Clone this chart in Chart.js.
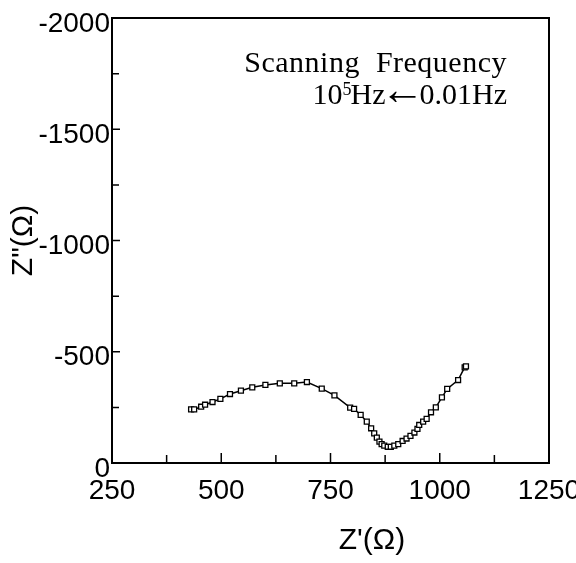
<!DOCTYPE html>
<html>
<head>
<meta charset="utf-8">
<script src="https://cdn.jsdelivr.net/npm/chart.js@4"></script>
<style>
  html, body { margin: 0; padding: 0; background: #fff; }
  canvas { display: block; }
</style>
</head>
<body>
<canvas id="nyquist" width="576" height="563"></canvas>
<script>
const zReal = [
    431, 438, 454, 463, 480, 498, 520, 545, 571, 601, 634, 667, 696,
    730, 759, 795, 804, 819, 833, 843, 850, 856, 862, 867, 873, 881,
    888, 896, 905, 915, 924, 933, 942, 949, 953, 962, 970, 980, 991,
    1005, 1017, 1042, 1057, 1060
];
const zImag = [
    -241, -241, -253, -262, -274, -288, -310, -325, -340, -351, -358, -358, -364,
    -334, -304, -249, -243, -216, -186, -156, -133, -114, -96, -85, -78, -73,
    -73, -78, -85, -99, -110, -122, -137, -153, -171, -186, -198, -228, -250,
    -295, -333, -373, -430, -434
];

const xTickVals = [250, 500, 750, 1000, 1250];
const yTickVals = [0, -500, -1000, -1500, -2000];

const sansFont = '"Liberation Sans", Arial, sans-serif';
const serifFont = '"Liberation Serif", "Times New Roman", serif';

// minor ticks sit halfway between the labelled ones
const midpoints = (vals) => vals.slice(1).map((v, i) => (v + vals[i]) / 2);

// frame, inward ticks, axis title and the frequency note
const decorations = {
    id: 'decorations',
    afterDraw(chart) {
        const { ctx, chartArea: area, scales: { x, y } } = chart;
        ctx.save();
        ctx.strokeStyle = '#000';

        ctx.lineWidth = 2;
        ctx.strokeRect(area.left, area.top, area.right - area.left, area.bottom - area.top);

        ctx.lineWidth = 1.5;
        ctx.beginPath();
        xTickVals.forEach(v => {
            const px = x.getPixelForValue(v);
            ctx.moveTo(px, area.bottom); ctx.lineTo(px, area.bottom - 10);
        });
        midpoints(xTickVals).forEach(v => {
            const px = x.getPixelForValue(v);
            ctx.moveTo(px, area.bottom); ctx.lineTo(px, area.bottom - 8);
        });
        yTickVals.forEach(v => {
            const py = y.getPixelForValue(v);
            ctx.moveTo(area.left, py); ctx.lineTo(area.left + 8, py);
        });
        midpoints(yTickVals).forEach(v => {
            const py = y.getPixelForValue(v);
            ctx.moveTo(area.left, py); ctx.lineTo(area.left + 7, py);
        });
        ctx.stroke();

        ctx.fillStyle = '#000';
        ctx.font = '30px ' + sansFont;
        ctx.textAlign = 'center';
        ctx.textBaseline = 'middle';
        ctx.fillText("Z'(Ω)", 372, 541);

        // "Scanning Frequency" / "10^5Hz←0.01Hz", right aligned at 507
        let cursor = 507;
        ctx.textBaseline = 'alphabetic';
        ctx.textAlign = 'right';
        ctx.font = '30px ' + serifFont;
        ctx.wordSpacing = '8px';
        ctx.letterSpacing = '0.5px';
        ctx.fillText('Scanning Frequency', cursor, 72);
        ctx.wordSpacing = '0px';
        ctx.letterSpacing = '0px';

        const pieces = [
            ['0.01Hz', '30px ' + serifFont, 104, -5],
            ['\u2190', '44px ' + serifFont, 104, -5],
            ['Hz', '30px ' + serifFont, 104, -1],
            ['5', '18px ' + serifFont, 95, 0],
            ['10', '30px ' + serifFont, 104, 0]
        ];
        pieces.forEach(([txt, font, base, gap]) => {
            ctx.font = font;
            ctx.fillText(txt, cursor, base);
            cursor -= ctx.measureText(txt).width + gap;
        });

        ctx.restore();
    }
};

new Chart(document.getElementById('nyquist'), {
    type: 'scatter',
    data: {
        datasets: [{
            data: zReal.map((v, i) => ({ x: v, y: zImag[i] })),
            showLine: true,
            borderColor: '#000',
            borderWidth: 1.5,
            pointStyle: 'rect',
            pointRadius: 3.5,
            pointBackgroundColor: '#fff',
            pointBorderColor: '#000',
            pointBorderWidth: 1.3
        }]
    },
    options: {
        responsive: false,
        animation: false,
        devicePixelRatio: 1,
        layout: { padding: { top: 18, right: 27, left: 0, bottom: 0 } },
        plugins: {
            legend: { display: false },
            tooltip: { enabled: false }
        },
        scales: {
            x: {
                type: 'linear',
                min: 250,
                max: 1250,
                afterBuildTicks: (s) => { s.ticks = xTickVals.map(v => ({ value: v })); },
                afterFit: (s) => { s.height = 100; s.paddingLeft = 0; s.paddingRight = 0; },
                grid: { display: false, drawTicks: false },
                border: { display: false },
                ticks: {
                    autoSkip: false,
                    maxRotation: 0,
                    padding: 11,
                    color: '#000',
                    font: { family: sansFont, size: 28 },
                    callback: (v) => String(v)
                }
            },
            y: {
                type: 'linear',
                reverse: true,
                min: -2000,
                max: 0,
                afterBuildTicks: (s) => { s.ticks = yTickVals.map(v => ({ value: v })); },
                afterFit: (s) => { s.width = 112; s.paddingTop = 0; s.paddingBottom = 0; },
                grid: { display: false, drawTicks: false },
                border: { display: false },
                title: {
                    display: true,
                    text: 'Z"(Ω)',
                    color: '#000',
                    font: { family: sansFont, size: 30 },
                    padding: { top: 6, bottom: 0 }
                },
                ticks: {
                    autoSkip: false,
                    padding: 2,
                    labelOffset: 6,
                    color: '#000',
                    font: { family: sansFont, size: 28 },
                    callback: (v) => String(v)
                }
            }
        }
    },
    plugins: [decorations]
});
</script>
</body>
</html>
